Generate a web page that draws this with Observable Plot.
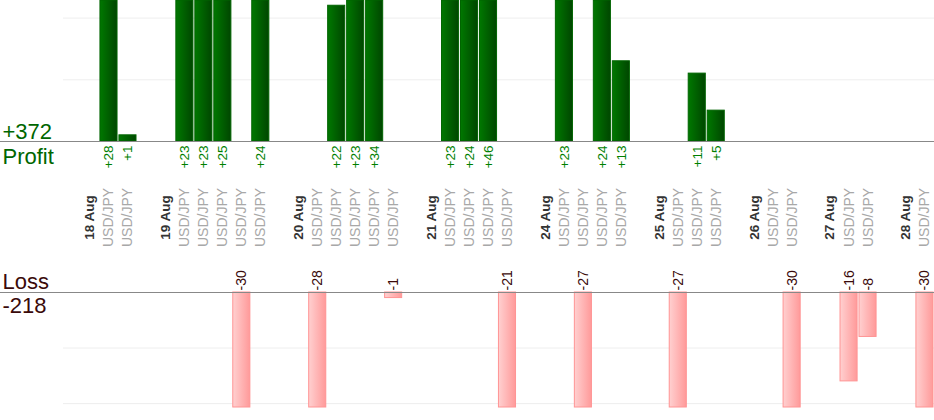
<!DOCTYPE html>
<html>
<head>
<meta charset="utf-8">
<script src="https://cdn.jsdelivr.net/npm/d3@7"></script>
<script src="https://cdn.jsdelivr.net/npm/@observablehq/plot@0.6"></script>
<style>
  body { margin: 0; background: #fff; }
  #chart svg { display: block; }
</style>
</head>
<body>
<div id="chart"></div>
<script>
// ---- data ----
const days = ["18 Aug", "19 Aug", "20 Aug", "21 Aug", "24 Aug", "25 Aug", "26 Aug", "27 Aug", "28 Aug"];
const tradePairs = [
  ["USD/JPY", "USD/JPY"],
  ["USD/JPY", "USD/JPY", "USD/JPY", "USD/JPY", "USD/JPY"],
  ["USD/JPY", "USD/JPY", "USD/JPY", "USD/JPY", "USD/JPY"],
  ["USD/JPY", "USD/JPY", "USD/JPY", "USD/JPY"],
  ["USD/JPY", "USD/JPY", "USD/JPY", "USD/JPY"],
  ["USD/JPY", "USD/JPY", "USD/JPY"],
  ["USD/JPY", "USD/JPY"],
  ["USD/JPY", "USD/JPY"],
  ["USD/JPY"]
];
const tradePips = [
  [28, 1],
  [23, 23, 25, -30, 24],
  [-28, 22, 23, 34, -1],
  [23, 24, 46, -21],
  [23, -27, 24, 13],
  [-27, 11, 5],
  [0, -30],
  [-16, -8],
  [-30]
];
const profitGrid = [10, 20];
const lossGrid = [-10, -20];
const profitTitle = "Profit";
const lossTitle = "Loss";

// ---- build slots (gap, day label, trades) ----
const slots = [];
days.forEach((d, i) => {
  slots.push({key: `gap${i}`, kind: "gap"});
  slots.push({key: `day${i}`, kind: "day", label: d});
  tradePips[i].forEach((p, j) =>
    slots.push({key: `t${i}_${j}`, kind: "trade", label: tradePairs[i][j], pips: p}));
});
const keys = slots.map(d => d.key);
const dayRows = slots.filter(d => d.kind === "day");
const trades = slots.filter(d => d.kind === "trade");
const wins = trades.filter(d => d.pips > 0);
const losses = trades.filter(d => d.pips < 0);
const totalProfit = d3.sum(wins, d => d.pips);
const totalLoss = d3.sum(losses, d => d.pips);

const font = "'Liberation Sans', Arial, Helvetica, sans-serif";
const xScale = {type: "band", domain: keys, range: [62, 933], paddingInner: 0.1, paddingOuter: 0, axis: null};

function gradient(id, c0, c1) {
  return () => {
    const defs = d3.create("svg:defs");
    const g = defs.append("linearGradient").attr("id", id)
      .attr("x1", "0").attr("x2", "1").attr("y1", "0").attr("y2", "0");
    g.append("stop").attr("offset", "0%").attr("stop-color", c0);
    g.append("stop").attr("offset", "100%").attr("stop-color", c1);
    return defs.node();
  };
}

const topChart = Plot.plot({
  width: 934, height: 260,
  marginTop: 0, marginBottom: 119, marginLeft: 0, marginRight: 0,
  style: {fontFamily: font, background: "#fff", overflow: "visible"},
  x: xScale,
  y: {domain: [0, 22.85], clamp: true, axis: null},
  marks: [
    gradient("gradProfit", "#007800", "#004600"),
    Plot.ruleY(profitGrid, {stroke: "#eeeeee", insetLeft: 63}),
    Plot.barY(wins, {x: "key", y: "pips", fill: "url(#gradProfit)", stroke: "#006400", strokeWidth: 1}),
    Plot.ruleY([0], {stroke: "#888888"}),
    Plot.text(wins, {x: "key", y: 0, text: d => "+" + d.pips, rotate: -90, textAnchor: "end",
      lineAnchor: "middle", dy: 4, fill: "#008000", fontSize: 13.5}),
    Plot.text(trades, {x: "key", frameAnchor: "bottom", text: "label", rotate: -90, textAnchor: "middle",
      lineAnchor: "middle", dy: 76, fill: "#a8a8a8", fontSize: 14}),
    Plot.text(dayRows, {x: "key", frameAnchor: "bottom", text: "label", rotate: -90, textAnchor: "middle",
      lineAnchor: "middle", dy: 76, fill: "#333333", fontSize: 13.5, fontWeight: "bold"}),
    Plot.text([totalProfit], {frameAnchor: "bottom-left", text: d => "+" + d, textAnchor: "start",
      lineAnchor: "bottom", dx: 2, dy: -3, fill: "#006600", fontSize: 22}),
    Plot.text([profitTitle], {frameAnchor: "bottom-left", text: d => d, textAnchor: "start",
      lineAnchor: "bottom", dx: 2, dy: 22, fill: "#006600", fontSize: 22})
  ]
});

const bottomChart = Plot.plot({
  width: 934, height: 160,
  marginTop: 32, marginBottom: 13, marginLeft: 0, marginRight: 0,
  style: {fontFamily: font, background: "#fff", overflow: "visible"},
  x: xScale,
  y: {domain: [-20.7, 0], clamp: true, axis: null},
  marks: [
    gradient("gradLoss", "#ffd0d0", "#ff9a9a"),
    Plot.ruleY(lossGrid, {stroke: "#eeeeee", insetLeft: 63}),
    Plot.barY(losses, {x: "key", y: "pips", fill: "url(#gradLoss)", stroke: "#ff9494", strokeWidth: 1}),
    Plot.ruleY([0], {stroke: "#888888"}),
    Plot.text(losses, {x: "key", y: 0, text: d => String(d.pips), rotate: -90, textAnchor: "start",
      lineAnchor: "middle", dy: -2, fill: "#3a0a0a", fontSize: 14}),
    Plot.text([lossTitle], {frameAnchor: "top-left", text: d => d, textAnchor: "start",
      lineAnchor: "bottom", dx: 2, dy: -4, fill: "#3a0a0a", fontSize: 22}),
    Plot.text([totalLoss], {frameAnchor: "top-left", text: d => String(d), textAnchor: "start",
      lineAnchor: "bottom", dx: 2, dy: 20, fill: "#3a0a0a", fontSize: 22})
  ]
});

const chart = document.getElementById("chart");
chart.appendChild(topChart);
chart.appendChild(bottomChart);
</script>
</body>
</html>
